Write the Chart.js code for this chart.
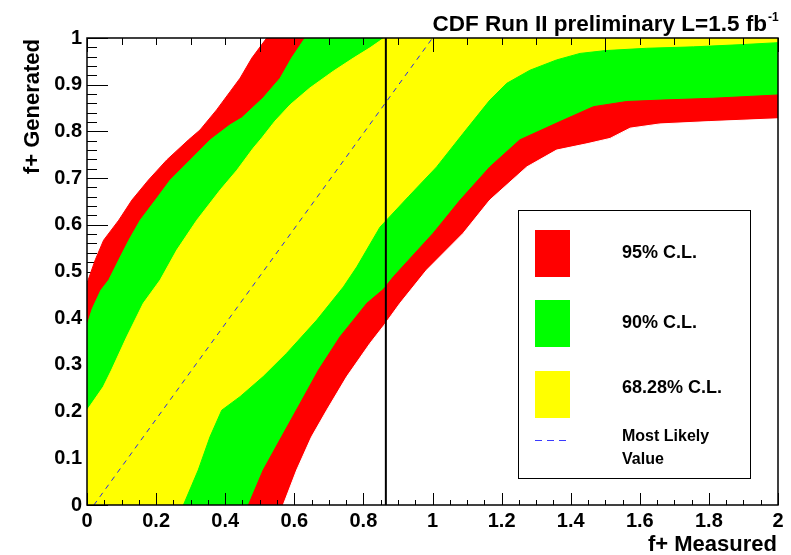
<!DOCTYPE html>
<html>
<head>
<meta charset="utf-8">
<title>f+ confidence belt</title>
<script src="https://cdn.jsdelivr.net/npm/chart.js"></script>
<style>
  html, body { margin: 0; padding: 0; background: #fff; }
  canvas { display: block; }
</style>
</head>
<body>
<canvas id="belt" width="791" height="555"></canvas>
<script>
// Band edges, as [f+ measured, f+ generated]
// upper-left edges (go from the y axis up to the top)
const redUpper = [[0, 0.475], [0.024, 0.525], [0.048, 0.567], [0.092, 0.61], [0.13, 0.653], [0.178, 0.696], [0.231, 0.739], [0.294, 0.782], [0.327, 0.803], [0.375, 0.846], [0.414, 0.885], [0.443, 0.914], [0.477, 0.957], [0.52, 1], [2, 1]];
const greenUpper = [[0, 0.385], [0.015, 0.42], [0.04, 0.46], [0.063, 0.482], [0.092, 0.525], [0.121, 0.567], [0.154, 0.61], [0.198, 0.653], [0.241, 0.696], [0.299, 0.739], [0.357, 0.782], [0.414, 0.814], [0.448, 0.829], [0.51, 0.872], [0.559, 0.914], [0.592, 0.957], [0.631, 1], [2, 1]];
const yellowUpper = [[0, 0.203], [0.047, 0.253], [0.071, 0.289], [0.115, 0.36], [0.163, 0.432], [0.212, 0.482], [0.26, 0.546], [0.318, 0.61], [0.386, 0.675], [0.434, 0.717], [0.481, 0.764], [0.506, 0.786], [0.544, 0.822], [0.588, 0.857], [0.645, 0.893], [0.713, 0.929], [0.771, 0.957], [0.819, 0.979], [0.86, 1], [2, 1]];
// lower-right edges (go from the x axis out to the right side)
const yellowLower = [[0.279, 0], [0.322, 0.075], [0.356, 0.146], [0.39, 0.203], [0.443, 0.232], [0.51, 0.275], [0.578, 0.325], [0.665, 0.396], [0.742, 0.467], [0.781, 0.51], [0.848, 0.595], [0.93, 0.66], [1.012, 0.724], [1.089, 0.796], [1.166, 0.867], [1.215, 0.903], [1.282, 0.931], [1.359, 0.953], [1.427, 0.967], [1.5, 0.973], [1.62, 0.978], [1.755, 0.981], [1.9, 0.986], [2, 0.99]];
const greenLower = [[0.467, 0], [0.51, 0.075], [0.563, 0.146], [0.617, 0.218], [0.67, 0.289], [0.732, 0.36], [0.81, 0.432], [0.858, 0.462], [0.887, 0.489], [1.002, 0.582], [1.08, 0.653], [1.166, 0.724], [1.253, 0.782], [1.369, 0.821], [1.466, 0.853], [1.562, 0.864], [1.66, 0.867], [1.813, 0.871], [2, 0.878]];
const redLower = [[0.568, 0], [0.607, 0.075], [0.65, 0.146], [0.694, 0.203], [0.752, 0.275], [0.819, 0.346], [0.86, 0.385], [0.906, 0.432], [0.983, 0.503], [1.089, 0.582], [1.166, 0.653], [1.273, 0.724], [1.359, 0.76], [1.45, 0.774], [1.514, 0.785], [1.572, 0.807], [1.658, 0.816], [1.803, 0.821], [2, 0.827]];

const mostLikely = [[0.02, 0], [1.0, 1.0]];
const measuredValue = 0.865;

const xTickLabels = ['0', '0.2', '0.4', '0.6', '0.8', '1', '1.2', '1.4', '1.6', '1.8', '2'];
const yTickLabels = ['0', '0.1', '0.2', '0.3', '0.4', '0.5', '0.6', '0.7', '0.8', '0.9', '1'];
const legendLabels = ['95% C.L.', '90% C.L.', '68.28% C.L.'];
const legendLineLabel = ['Most Likely', 'Value'];

const RED = '#ff0000';
const GREEN = '#00ff00';
const YELLOW = '#ffff00';
const DASH_BLUE = '#2a2ae6';
const FONT = '"Liberation Sans", Arial, Helvetica, sans-serif';

function toXY(pts) {
    return pts.map(p => ({ x: p[0], y: p[1] }));
}

// Painted bottom first, each one filled down to y = 0
const layers = [
    { pts: redUpper, color: RED },
    { pts: greenUpper, color: GREEN },
    { pts: yellowUpper, color: YELLOW },
    { pts: yellowLower, color: GREEN },
    { pts: greenLower, color: RED },
    { pts: redLower, color: '#ffffff' }
];

const datasets = layers.map((l, i) => ({
    data: toXY(l.pts),
    fill: 'start',
    backgroundColor: l.color,
    borderColor: l.color,
    borderWidth: 1,
    pointRadius: 0,
    tension: 0,
    order: 100 - i
}));

datasets.push({
    data: toXY(mostLikely),
    fill: false,
    borderColor: DASH_BLUE,
    borderWidth: 1,
    borderDash: [5, 5],
    pointRadius: 0,
    order: 2
});

datasets.push({
    data: [{ x: measuredValue, y: 0 }, { x: measuredValue, y: 1 }],
    fill: false,
    borderColor: '#000000',
    borderWidth: 2,
    pointRadius: 0,
    order: 1
});

// ROOT style ticks (inside the frame), frame, titles and legend box
const rootStyle = {
    id: 'rootStyle',
    beforeDatasetsDraw(chart) {
        const { ctx, chartArea: a, scales: { y } } = chart;
        ctx.save();
        ctx.strokeStyle = '#000';
        ctx.lineWidth = 1;
        ctx.beginPath();
        for (let i = 0; i <= 50; i++) {
            const py = Math.round(y.getPixelForValue(i * 0.02)) + 0.5;
            const len = i % 5 === 0 ? 21 : 10;
            ctx.moveTo(a.left, py);
            ctx.lineTo(a.left + len, py);
        }
        ctx.stroke();
        ctx.restore();
    },
    afterDatasetsDraw(chart) {
        const { ctx, chartArea: a, scales: { x } } = chart;
        ctx.save();
        ctx.strokeStyle = '#000';
        ctx.lineWidth = 1;
        ctx.beginPath();
        for (let i = 0; i <= 40; i++) {
            const px = Math.round(x.getPixelForValue(i * 0.05)) + 0.5;
            const len = i % 4 === 0 ? 12 : 5;
            ctx.moveTo(px, a.bottom);
            ctx.lineTo(px, a.bottom - len);
        }
        for (let i = 0; i <= 20; i++) {
            const px = Math.round(x.getPixelForValue(i * 0.1)) + 0.5;
            const len = i % 5 === 0 ? 14 : 7;
            ctx.moveTo(px, a.top);
            ctx.lineTo(px, a.top + len);
        }
        ctx.stroke();
        ctx.lineWidth = 1.5;
        ctx.strokeRect(a.left, a.top, a.right - a.left, a.bottom - a.top);
        ctx.restore();
    },
    afterDraw(chart) {
        const ctx = chart.ctx;
        ctx.save();
        ctx.fillStyle = '#000';

        // title with superscript
        ctx.font = 'bold 22.5px ' + FONT;
        ctx.textAlign = 'right';
        ctx.textBaseline = 'alphabetic';
        ctx.fillText('CDF Run II preliminary L=1.5 fb', 767, 31);
        ctx.font = 'bold 12px ' + FONT;
        ctx.textAlign = 'left';
        ctx.fillText('-1', 768, 21);

        // axis titles
        ctx.font = 'bold 22px ' + FONT;
        ctx.textAlign = 'right';
        ctx.fillText('f+ Measured', 777, 551);
        ctx.save();
        ctx.translate(39, 39);
        ctx.rotate(-Math.PI / 2);
        ctx.fillText('f+ Generated', 0, 0);
        ctx.restore();

        // legend
        ctx.fillStyle = '#ffffff';
        ctx.fillRect(518, 210, 233, 269);
        ctx.strokeStyle = '#000';
        ctx.lineWidth = 1;
        ctx.strokeRect(518.5, 210.5, 232, 268);

        const swatchColors = [RED, GREEN, YELLOW];
        const swatchTops = [230, 300, 371];
        const textMids = [253, 323, 388];
        ctx.font = 'bold 18px ' + FONT;
        ctx.textAlign = 'left';
        ctx.textBaseline = 'middle';
        for (let i = 0; i < legendLabels.length; i++) {
            ctx.fillStyle = swatchColors[i];
            ctx.fillRect(535, swatchTops[i], 35, 47);
            ctx.fillStyle = '#000';
            ctx.fillText(legendLabels[i], 622, textMids[i]);
        }

        ctx.strokeStyle = '#3a3aff';
        ctx.setLineDash([7, 5]);
        ctx.beginPath();
        ctx.moveTo(535, 440.5);
        ctx.lineTo(568, 440.5);
        ctx.stroke();
        ctx.setLineDash([]);

        ctx.font = 'bold 16px ' + FONT;
        ctx.textBaseline = 'alphabetic';
        ctx.fillText(legendLineLabel[0], 622, 441);
        ctx.fillText(legendLineLabel[1], 622, 464);
        ctx.restore();
    }
};

const tickFont = { family: FONT, size: 20, weight: 'bold' };

new Chart(document.getElementById('belt'), {
    type: 'line',
    data: { datasets: datasets },
    options: {
        responsive: false,
        animation: false,
        events: [],
        layout: { padding: { left: 0, top: 38, right: 13, bottom: 0 } },
        plugins: {
            legend: { display: false },
            title: { display: false },
            tooltip: { enabled: false }
        },
        scales: {
            x: {
                type: 'linear',
                min: 0,
                max: 2,
                afterBuildTicks: s => { s.ticks = xTickLabels.map(t => ({ value: parseFloat(t) })); },
                ticks: {
                    font: tickFont, color: '#000', padding: 4, maxRotation: 0, autoSkip: false,
                    callback: (v, i) => xTickLabels[i]
                },
                grid: { display: false, drawTicks: false },
                border: { display: false },
                afterFit: s => { s.height = 50; }
            },
            y: {
                type: 'linear',
                min: 0,
                max: 1,
                afterBuildTicks: s => { s.ticks = yTickLabels.map(t => ({ value: parseFloat(t) })); },
                ticks: {
                    font: tickFont, color: '#000', padding: 5, autoSkip: false,
                    callback: (v, i) => yTickLabels[i]
                },
                grid: { display: false, drawTicks: false },
                border: { display: false },
                afterFit: s => { s.width = 87; }
            }
        }
    },
    plugins: [rootStyle]
});
</script>
</body>
</html>
